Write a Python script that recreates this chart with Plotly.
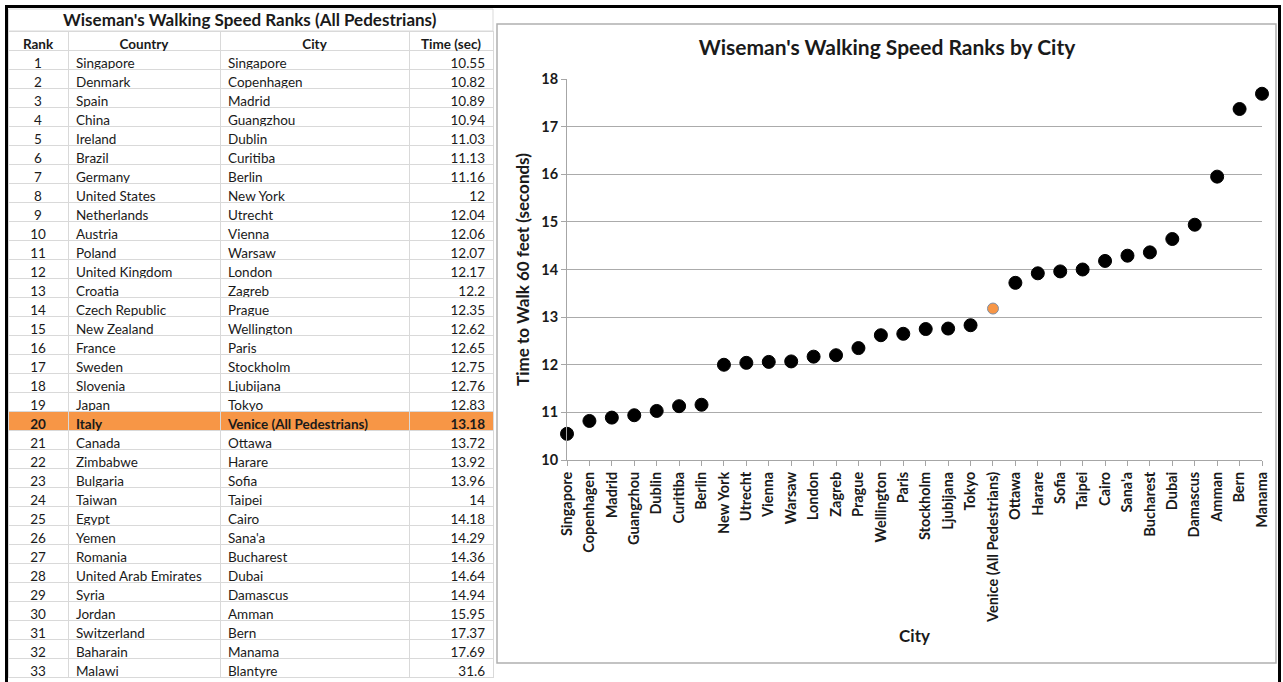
import plotly.graph_objects as go

ranks = list(range(1, 34))
countries = ["Singapore", "Denmark", "Spain", "China", "Ireland", "Brazil", "Germany",
             "United States", "Netherlands", "Austria", "Poland", "United Kingdom", "Croatia",
             "Czech Republic", "New Zealand", "France", "Sweden", "Slovenia", "Japan", "Italy",
             "Canada", "Zimbabwe", "Bulgaria", "Taiwan", "Egypt", "Yemen", "Romania",
             "United Arab Emirates", "Syria", "Jordan", "Switzerland", "Baharain", "Malawi"]
cities = ["Singapore", "Copenhagen", "Madrid", "Guangzhou", "Dublin", "Curitiba", "Berlin",
          "New York", "Utrecht", "Vienna", "Warsaw", "London", "Zagreb", "Prague", "Wellington",
          "Paris", "Stockholm", "Ljubijana", "Tokyo", "Venice (All Pedestrians)", "Ottawa",
          "Harare", "Sofia", "Taipei", "Cairo", "Sana'a", "Bucharest", "Dubai", "Damascus",
          "Amman", "Bern", "Manama", "Blantyre"]
times = [10.55, 10.82, 10.89, 10.94, 11.03, 11.13, 11.16, 12, 12.04, 12.06, 12.07, 12.17,
         12.2, 12.35, 12.62, 12.65, 12.75, 12.76, 12.83, 13.18, 13.72, 13.92, 13.96, 14,
         14.18, 14.29, 14.36, 14.64, 14.94, 15.95, 17.37, 17.69, 31.6]
column_headers = ["Rank", "Country", "City", "Time (sec)"]
highlight_index = 19
chart_count = 32  # Blantyre is not plotted

W, H = 1283, 682
FONT = "Lato"
TXT = "#1a1a1a"
ORANGE = "#F79646"
GRID = "#D9D9D9"

def px(x):  # picture x (pixels) -> paper fraction
    return x / W

def py(y):  # picture y (pixels) -> paper fraction
    return 1 - y / H

# ---- table (split at the highlighted row so that row can be bold) ----
R = 19
T = 31
TX = [px(8), px(493)]
colw = [60, 152, 189, 84]
aligns = ["center", "left", "left", "right"]
time_txt = [f"{t:g}" for t in times]
cols = [ranks, countries, cities, time_txt]
h = highlight_index

fig = go.Figure()

# part 1: column headers + rows before the highlight
fig.add_trace(go.Table(
    domain=dict(x=TX, y=[py(T + (h + 1) * R + 0.6), py(T)]),
    columnwidth=colw,
    header=dict(values=column_headers, align="center", height=R,
                fill_color="white", line=dict(color=GRID, width=1),
                font=dict(family=FONT, size=13.5, color=TXT, weight="bold")),
    cells=dict(values=[c[:h] for c in cols], align=aligns, height=R,
               fill_color="white", line=dict(color=GRID, width=1),
               font=dict(family=FONT, size=13.5, color=TXT)),
))

# part 2: highlighted row (bold, orange) + remaining rows
fig.add_trace(go.Table(
    domain=dict(x=TX, y=[0, py(T + (h + 1) * R)]),
    columnwidth=colw,
    header=dict(values=[c[h] for c in cols], align=aligns, height=R,
                fill_color=ORANGE, line=dict(color=GRID, width=1),
                font=dict(family=FONT, size=13.5, color=TXT, weight="bold")),
    cells=dict(values=[c[h + 1:] for c in cols], align=aligns, height=R,
               fill_color="white", line=dict(color=GRID, width=1),
               font=dict(family=FONT, size=13.5, color=TXT)),
))

# ---- chart ----
chart_cities = cities[:chart_count]
chart_times = times[:chart_count]
colors = [ORANGE if i == h else "black" for i in range(chart_count)]
sizes = [11 if i == h else 13 for i in range(chart_count)]
line_colors = ["#7f8fa6" if i == h else "black" for i in range(chart_count)]

fig.add_trace(go.Scatter(
    x=chart_cities, y=chart_times, mode="markers",
    marker=dict(color=colors, size=sizes, opacity=1,
                line=dict(color=line_colors, width=1)),
    cliponaxis=False, showlegend=False,
))

axis_font = dict(family=FONT, size=14.5, color=TXT, weight="bold")
fig.update_layout(
    width=W, height=H,
    margin=dict(l=0, r=0, t=0, b=0, pad=0, autoexpand=False),
    paper_bgcolor="white", plot_bgcolor="white",
    showlegend=False,
    title=dict(text="<b>Wiseman's Walking Speed Ranks by City</b>",
               font=dict(family=FONT, size=21, color=TXT),
               x=px(887), xanchor="center", y=py(48), yanchor="middle"),
    xaxis=dict(
        domain=[px(567), px(1262)],
        range=[0, chart_count - 1],
        tickangle=-90, tickfont=axis_font,
        ticks="outside", ticklen=5, tickcolor="#A6A6A6",
        showline=True, linecolor="#A6A6A6", linewidth=1,
        showgrid=False, zeroline=False, automargin=False,
        title=dict(text="<b>City</b>", font=dict(family=FONT, size=17, color=TXT), standoff=8),
    ),
    yaxis=dict(
        domain=[py(460), py(79)],
        range=[10, 18], dtick=1,
        tickfont=axis_font,
        ticks="outside", ticklen=5, tickcolor="#A6A6A6",
        showline=True, linecolor="#A6A6A6", linewidth=1,
        showgrid=True, gridcolor="#ABABAB", gridwidth=1,
        zeroline=False, automargin=False,
        title=dict(text="<b>Time to Walk 60 feet (seconds)</b>",
                   font=dict(family=FONT, size=17, color=TXT), standoff=7),
    ),
)

# table title row
fig.add_shape(type="rect", xref="paper", yref="paper",
              x0=px(8.5), x1=px(493), y0=py(T), y1=py(9),
              line=dict(color=GRID, width=1), fillcolor="white", layer="below")
fig.add_annotation(text="<b>Wiseman's Walking Speed Ranks (All Pedestrians)</b>",
                   xref="paper", yref="paper", x=px(250), y=py(20),
                   xanchor="center", yanchor="middle", showarrow=False,
                   font=dict(family=FONT, size=17, color=TXT))

# chart panel border
fig.add_shape(type="rect", xref="paper", yref="paper",
              x0=px(497), x1=px(1276), y0=py(663), y1=py(24),
              line=dict(color="#B0B0B0", width=1.5), fillcolor="rgba(0,0,0,0)")

# outer black frame (bottom edge falls below the picture)
fig.add_shape(type="rect", xref="paper", yref="paper",
              x0=px(6.5), x1=px(1279.5), y0=py(700), y1=py(6.5),
              line=dict(color="black", width=3), fillcolor="rgba(0,0,0,0)")

fig.write_html("out.html", config={"displayModeBar": False},
               post_script="document.body.style.margin='0';document.body.style.overflow='hidden';")
